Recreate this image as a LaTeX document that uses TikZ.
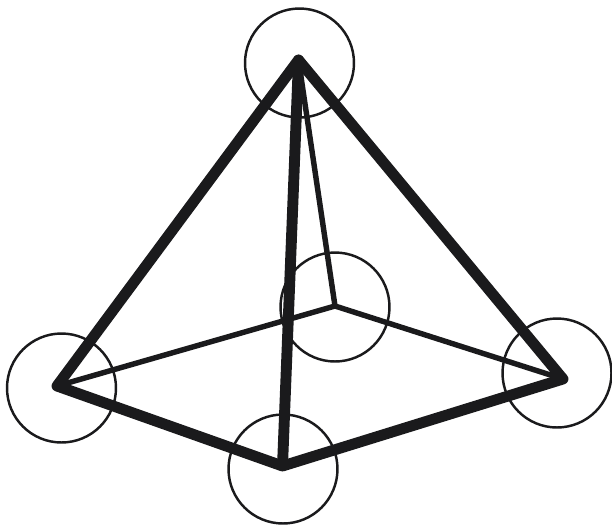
\documentclass[tikz,border=0pt]{standalone}
\usepackage{tikz}
\definecolor{inkblack}{HTML}{1A1A1C}

\begin{document}
\begin{tikzpicture}[
  x=0.02cm, y=-0.02cm,
  ring/.style={draw=inkblack, circle, inner sep=0pt, minimum size=2.18cm, line width=1.4pt},
  thinedge/.style={draw=inkblack, line width=3.1pt, line join=round, line cap=round},
  thickedge/.style={draw=inkblack, line width=6.2pt, line join=round, line cap=round},
]
\useasboundingbox (0,0) rectangle (612,525);

% Rings
\node[ring] (r_top)    at (299.5,63) {};
\node[ring] (r_back)   at (335,307) {};
\node[ring] (r_left)   at (61.5,388) {};
\node[ring] (r_front)  at (283,469) {};
\node[ring] (r_right)  at (557,373) {};

% Corners
\coordinate (apex)  at (298.5,60);
\coordinate (back)  at (335,306);
\coordinate (left)  at (57,386);
\coordinate (front) at (282.5,466);
\coordinate (right) at (563,379);

% Hidden edges
\draw[thinedge] (apex) -- (back);
\draw[thinedge] (left) -- (back) -- (right);

% Outer edges
\draw[thickedge] (apex) -- (left) -- (front) -- (right) -- cycle;
\draw[thickedge] (apex) -- (front);
\end{tikzpicture}
\end{document}
